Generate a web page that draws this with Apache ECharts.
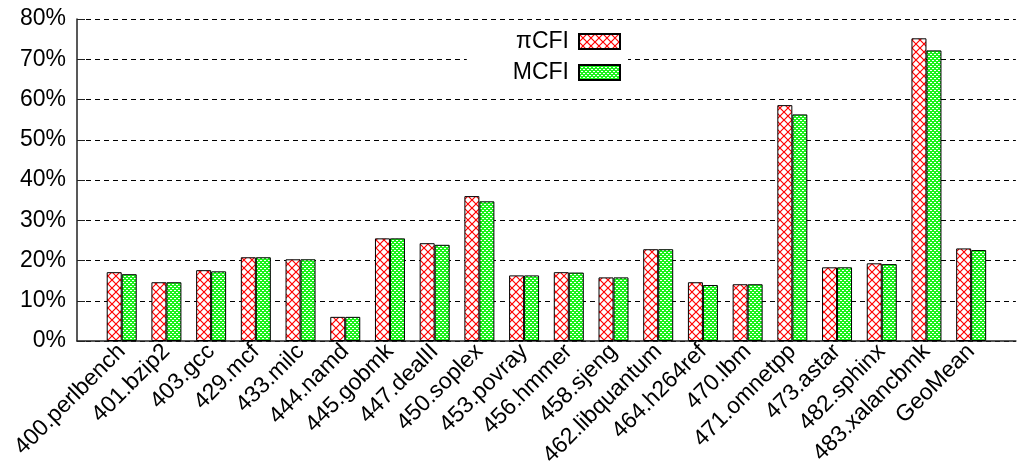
<!DOCTYPE html>
<html>
<head>
<meta charset="utf-8">
<script src="https://cdn.jsdelivr.net/npm/echarts@6/dist/echarts.min.js"></script>
<style>
    html, body { margin: 0; padding: 0; background: #fff; }
    #main { width: 1018px; height: 471px; }
</style>
</head>
<body>
<div id="main"></div>
<script>
var benchmarks = ["400.perlbench", "401.bzip2", "403.gcc", "429.mcf", "433.milc", "444.namd",
    "445.gobmk", "447.dealII", "450.soplex", "453.povray", "456.hmmer", "458.sjeng",
    "462.libquantum", "464.h264ref", "470.lbm", "471.omnetpp", "473.astar", "482.sphinx",
    "483.xalancbmk", "GeoMean"];
var piCFI = [17.1, 14.6, 17.6, 20.8, 20.3, 6.0, 25.5, 24.3, 36.0, 16.3, 17.1, 15.8, 22.8, 14.6, 14.1, 58.6, 18.3, 19.3, 75.2, 23.0];
var MCFI = [16.6, 14.6, 17.3, 20.8, 20.3, 6.0, 25.5, 23.9, 34.7, 16.3, 17.0, 15.8, 22.8, 13.9, 14.1, 56.3, 18.3, 19.1, 72.2, 22.6];

// empty slot on each side, like the gnuplot xrange padding
var cats = [""].concat(benchmarks, [""]);
var pad = function (arr) { return ["-"].concat(arr, ["-"]); };

// red cross hatch
function crossPattern() {
    var c = document.createElement("canvas");
    c.width = 8; c.height = 8;
    var ctx = c.getContext("2d");
    ctx.fillStyle = "#fff";
    ctx.fillRect(0, 0, 8, 8);
    ctx.strokeStyle = "#ff0000";
    ctx.lineWidth = 1.2;
    ctx.beginPath();
    ctx.moveTo(0, 0); ctx.lineTo(8, 8);
    ctx.moveTo(8, 0); ctx.lineTo(0, 8);
    ctx.stroke();
    return c;
}
// green with small white dots
function dotPattern() {
    var c = document.createElement("canvas");
    c.width = 4; c.height = 4;
    var ctx = c.getContext("2d");
    ctx.fillStyle = "#1cf21c";
    ctx.fillRect(0, 0, 4, 4);
    ctx.fillStyle = "#ffffff";
    ctx.fillRect(0, 0, 2, 1);
    ctx.fillRect(2, 2, 2, 1);
    return c;
}

var font = "Liberation Sans";
var myChart = echarts.init(document.getElementById("main"), null, { renderer: "canvas" });
var option = {
    animation: false,
    backgroundColor: "#fff",
    textStyle: { fontFamily: font, color: "#000" },
    legend: {
        orient: "vertical",
        right: 390,
        top: 22,
        align: "right",
        icon: "rect",
        itemWidth: 41,
        itemHeight: 15,
        itemGap: 8,
        padding: [8, 7, 6, 46],
        backgroundColor: "#fff",
        textStyle: { fontSize: 23, fontFamily: font, color: "#000", padding: [0, 5, 0, 0] },
        data: ["πCFI", "MCFI"],
    },
    grid: {
        left: 77,
        right: -5,
        top: 19,
        bottom: 130,
    },
    xAxis: {
        type: "category",
        data: cats,
        boundaryGap: false,
        axisLine: { lineStyle: { color: "#222", width: 1.5 } },
        axisTick: { show: false },
        axisLabel: {
            interval: 0,
            rotate: 45,
            margin: 7,
            fontSize: 23,
            fontFamily: font,
            color: "#000",
        },
    },
    yAxis: {
        type: "value",
        min: 0,
        max: 80,
        interval: 10,
        axisLine: { show: true, lineStyle: { color: "#222", width: 1.5 } },
        axisTick: { show: true, inside: true, length: 8, lineStyle: { color: "#222" } },
        axisLabel: {
            formatter: "{value}%",
            margin: 11,
            fontSize: 23,
            fontFamily: font,
            color: "#000",
        },
        splitLine: {
            show: true,
            lineStyle: { color: "#000", type: [5, 4], width: 1 },
        },
    },
    series: [
        {
            name: "πCFI",
            type: "bar",
            data: pad(piCFI),
            barWidth: 15,
            barGap: "0%",
            itemStyle: {
                color: { image: crossPattern(), repeat: "repeat" },
                borderColor: "#000",
                borderWidth: 1,
            },
        },
        {
            name: "MCFI",
            type: "bar",
            data: pad(MCFI),
            barWidth: 15,
            itemStyle: {
                color: { image: dotPattern(), repeat: "repeat" },
                borderColor: "#000",
                borderWidth: 1,
            },
        },
    ],
};
myChart.setOption(option);
</script>
</body>
</html>
